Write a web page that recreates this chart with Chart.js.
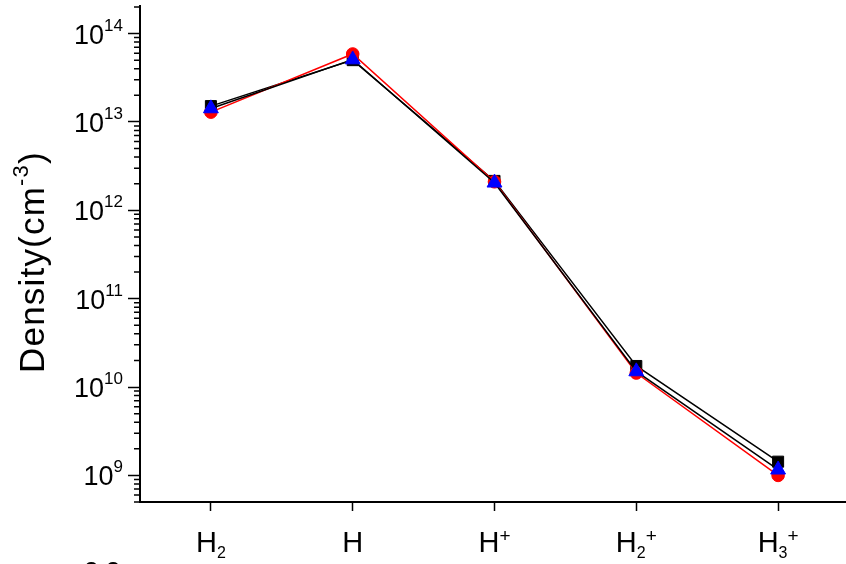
<!DOCTYPE html>
<html>
<head>
<meta charset="utf-8">
<script src="https://cdn.jsdelivr.net/npm/chart.js@4.4.0/dist/chart.umd.min.js"></script>
<style>
  html, body { margin: 0; padding: 0; background: #fff; overflow: hidden; width: 846px; height: 564px; }
  #wrap { position: relative; width: 846px; height: 564px; overflow: hidden; }
  #c { position: absolute; left: 0; top: 0; }
</style>
</head>
<body>
<div id="wrap"><canvas id="c" width="849" height="564"></canvas></div>
<script>
// Species along the x axis (digits become subscripts, "+" a superscript)
const species = ['H2', 'H', 'H+', 'H2+', 'H3+'];

// Densities in cm^-3 for the three runs
const densitySquares   = [1.51e13, 5.00e13, 2.15e12, 1.73e10, 1.43e9];
const densityCircles   = [1.29e13, 5.87e13, 2.10e12, 1.44e10, 1.00e9];
const densityTriangles = [1.42e13, 5.08e13, 2.05e12, 1.50e10, 1.16e9];

// Decades labelled on the log axis
const decadeExponents = [9, 10, 11, 12, 13, 14];
const yMin = 5e8;
const yMax = 2.05e14;

const FONT = '"Liberation Sans", Arial, sans-serif';

function splitSpecies(s) {
  const m = s.match(/^([A-Za-z]+)(\d*)(\+*)$/);
  return { base: m[1], sub: m[2], sup: m[3] };
}

const textPlugin = {
  id: 'densityText',
  afterDraw(chart) {
    const ctx = chart.ctx;
    const xs = chart.scales.x;
    const ys = chart.scales.y;
    const left = chart.chartArea.left;
    ctx.save();
    ctx.fillStyle = '#000';
    ctx.strokeStyle = '#000';

    // minor ticks of the log axis
    ctx.lineWidth = 1.5;
    ctx.beginPath();
    for (let e = 8; e <= 14; e++) {
      for (let m = 2; m <= 9; m++) {
        const v = m * Math.pow(10, e);
        if (v < yMin || v > yMax) continue;
        const py = ys.getPixelForValue(v);
        ctx.moveTo(left - 6, py);
        ctx.lineTo(left, py);
      }
    }
    ctx.stroke();

    // decade labels 10^n
    ctx.textBaseline = 'alphabetic';
    ctx.textAlign = 'left';
    const labelRight = 123;
    decadeExponents.forEach(e => {
      const py = ys.getPixelForValue(Math.pow(10, e));
      ctx.font = '17px ' + FONT;
      const sw = ctx.measureText(String(e)).width;
      ctx.font = '27px ' + FONT;
      const bw = ctx.measureText('10').width;
      ctx.fillText('10', labelRight - sw - bw, py + 10);
      ctx.font = '17px ' + FONT;
      ctx.fillText(String(e), labelRight - sw, py - 3);
    });

    // species labels under the axis
    const baseY = 552;
    species.forEach((s, i) => {
      const px = xs.getPixelForValue(i);
      const p = splitSpecies(s);
      ctx.font = '29px ' + FONT;
      const bw = ctx.measureText(p.base).width;
      ctx.font = '16px ' + FONT;
      const subw = p.sub ? ctx.measureText(p.sub).width : 0;
      ctx.font = '19px ' + FONT;
      const supw = p.sup ? ctx.measureText(p.sup).width : 0;
      const total = bw + subw + supw;
      let x0 = px - total / 2;
      ctx.font = '29px ' + FONT;
      ctx.fillText(p.base, x0, baseY);
      x0 += bw;
      if (p.sub) {
        ctx.font = '16px ' + FONT;
        ctx.fillText(p.sub, x0, baseY + 6);
        x0 += subw;
      }
      if (p.sup) {
        ctx.font = '19px ' + FONT;
        ctx.fillText(p.sup, x0, baseY - 10);
      }
    });

    // axis title, rotated
    ctx.save();
    ctx.translate(44, 373);
    ctx.rotate(-Math.PI / 2);
    if ('letterSpacing' in ctx) ctx.letterSpacing = '1.2px';
    let tx = 0;
    ctx.font = '35px ' + FONT;
    ctx.fillText('Density(cm', tx, 0);
    tx += ctx.measureText('Density(cm').width;
    ctx.font = '22px ' + FONT;
    ctx.fillText('-3', tx, -16);
    tx += ctx.measureText('-3').width;
    ctx.font = '35px ' + FONT;
    ctx.fillText(')', tx, 0);
    ctx.restore();

    ctx.restore();
  }
};

new Chart(document.getElementById('c'), {
  type: 'line',
  data: {
    labels: species,
    datasets: [
      {
        label: 'squares',
        data: densitySquares,
        borderColor: '#000',
        borderWidth: 1.5,
        pointStyle: 'rect',
        pointRadius: 7.8,
        pointBackgroundColor: '#000',
        pointBorderColor: '#000',
        pointBorderWidth: 1,
        order: 3
      },
      {
        label: 'circles',
        data: densityCircles,
        borderColor: '#ff0000',
        borderWidth: 1.5,
        pointStyle: 'circle',
        pointRadius: 6.3,
        pointBackgroundColor: '#ff0000',
        pointBorderColor: '#ff0000',
        pointBorderWidth: 1,
        order: 2
      },
      {
        label: 'triangles',
        data: densityTriangles,
        borderColor: '#000',
        borderWidth: 1.5,
        pointStyle: 'triangle',
        pointRadius: 8.6,
        pointBackgroundColor: '#0000ff',
        pointBorderColor: '#0000ff',
        pointBorderWidth: 1,
        order: 1
      }
    ]
  },
  options: {
    responsive: false,
    animation: false,
    devicePixelRatio: 1,
    layout: { autoPadding: false, padding: { top: 6, right: 0, left: 0, bottom: 0 } },
    plugins: { legend: { display: false }, tooltip: { enabled: false } },
    elements: { line: { tension: 0 } },
    scales: {
      x: {
        type: 'category',
        offset: true,
        grid: {
          display: true, drawOnChartArea: false, drawTicks: true,
          tickLength: 9, tickColor: '#000', tickWidth: 1.5, offset: false
        },
        border: { display: true, color: '#000', width: 2 },
        ticks: { display: false },
        afterFit(scale) {
          scale.height = 62;
          scale.paddingLeft = 0;
          scale.paddingRight = 0;
        }
      },
      y: {
        type: 'logarithmic',
        min: yMin,
        max: yMax,
        bounds: 'data',
        grid: {
          display: true, drawOnChartArea: false, drawTicks: true,
          tickLength: 12, tickColor: '#000', tickWidth: 1.5
        },
        border: { display: true, color: '#000', width: 2 },
        ticks: { display: false },
        afterBuildTicks(scale) {
          scale.ticks = decadeExponents.map(e => ({ value: Math.pow(10, e), major: true }));
        },
        afterFit(scale) {
          scale.width = 140;
          scale.paddingTop = 0;
          scale.paddingBottom = 0;
        }
      }
    }
  },
  plugins: [textPlugin]
});
</script>
<div style="position:absolute;left:84px;top:558px;font:26px 'Liberation Sans',Arial,sans-serif;color:#000;line-height:26px;">2.2</div>
</body>
</html>
